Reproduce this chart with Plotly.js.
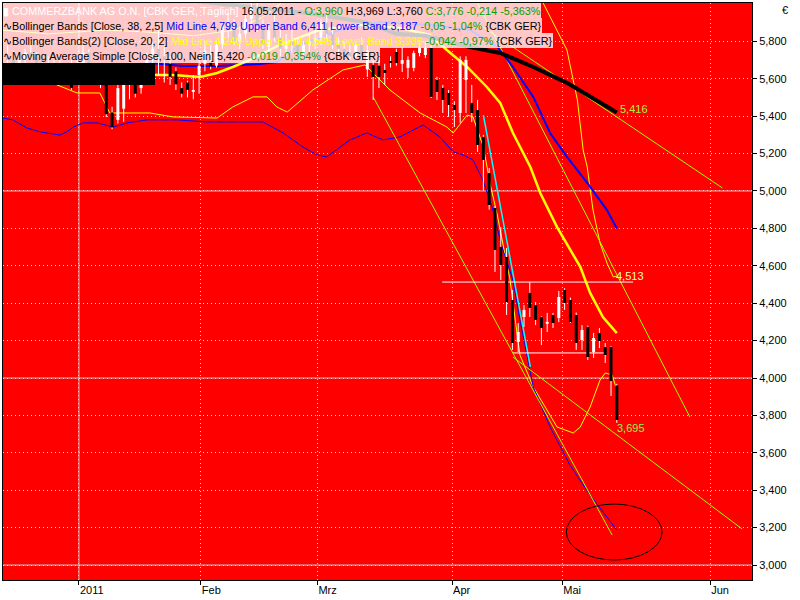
<!DOCTYPE html>
<html><head><meta charset="utf-8">
<script src="https://cdn.plot.ly/plotly-3.0.1.min.js"></script>
<style>html,body{margin:0;padding:0;background:#fff}#chart{width:800px;height:600px}</style>
</head><body><div id="chart"></div><script>
// x = trading-day index, 0 = 03.01.2011
const candleStart = -12;
const openP = [5.72,5.70,5.66,5.70,5.74,5.72,5.64,5.68,5.64,5.66,5.63,5.64,
 5.58,5.68,5.74,5.64,5.62,5.60,5.42,5.38,5.44,5.60,5.64,5.55,5.62,5.70,5.76,5.72,5.68,5.64,5.55,5.58,5.53,5.62,5.68,5.69,
 5.67,5.78,5.88,5.86,5.80,5.84,5.92,5.98,5.88,5.77,5.86,5.82,5.76,5.80,5.78,5.74,5.78,5.80,5.82,5.90,5.84,5.78,5.76,5.74,5.72,5.78,
 5.65,5.674,5.67,5.647,5.695,5.743,5.68,5.658,5.658,5.738,5.727,5.765,5.594,5.551,5.524,5.46,5.417,5.594,5.471,5.433,5.289,5.096,4.909,4.701,4.647,4.417,
 4.193,4.326,4.455,4.39,4.326,4.29,4.337,4.321,4.471,4.417,4.337,4.203,4.273,4.139,4.241,4.166,4.166,3.960];
const highP = [5.78,5.75,5.72,5.76,5.80,5.74,5.70,5.72,5.70,5.70,5.68,5.70,
 5.72,5.78,5.76,5.68,5.66,5.63,5.45,5.60,5.62,5.72,5.68,5.66,5.74,5.80,5.86,5.78,5.72,5.66,5.58,5.59,5.62,5.72,5.80,5.78,
 5.80,5.90,5.96,5.92,5.88,5.95,6.02,6.02,5.92,5.90,5.94,5.86,5.84,5.86,5.82,5.80,5.84,5.86,5.92,5.94,5.88,5.82,5.80,5.78,5.80,5.82,
 5.78,5.70,5.70,5.68,5.72,5.76,5.77,5.72,5.75,5.79,5.80,5.79,5.61,5.567,5.54,5.48,5.72,5.72,5.567,5.487,5.30,5.123,4.92,4.807,4.695,4.471,
 4.294,4.39,4.513,4.406,4.33,4.348,4.348,4.465,4.48,4.43,4.35,4.283,4.28,4.241,4.267,4.187,4.17,3.969];
const lowP = [5.66,5.64,5.62,5.66,5.70,5.62,5.60,5.62,5.60,5.61,5.59,5.54,
 5.57,5.64,5.62,5.59,5.55,5.395,5.33,5.36,5.37,5.49,5.50,5.52,5.57,5.60,5.62,5.58,5.567,5.54,5.50,5.50,5.49,5.52,5.64,5.65,
 5.66,5.76,5.82,5.78,5.76,5.80,5.88,5.85,5.76,5.74,5.80,5.72,5.72,5.74,5.70,5.70,5.74,5.76,5.78,5.80,5.76,5.72,5.71,5.70,5.70,5.70,
 5.61,5.487,5.55,5.567,5.66,5.67,5.636,5.604,5.64,5.72,5.71,5.497,5.487,5.417,5.396,5.342,5.364,5.417,5.369,5.209,5.005,4.90,4.567,4.524,4.337,4.150,
 4.139,4.273,4.326,4.283,4.176,4.246,4.267,4.299,4.364,4.294,4.150,4.150,4.096,4.107,4.160,4.080,3.904,3.760];
const closeP = [5.70,5.66,5.70,5.74,5.72,5.64,5.68,5.64,5.66,5.63,5.65,5.55,
 5.68,5.74,5.64,5.62,5.58,5.41,5.34,5.55,5.58,5.68,5.52,5.62,5.70,5.76,5.72,5.70,5.61,5.57,5.52,5.54,5.54,5.67,5.75,5.665,
 5.78,5.88,5.86,5.80,5.84,5.92,5.98,5.88,5.78,5.86,5.82,5.76,5.80,5.78,5.74,5.78,5.80,5.82,5.90,5.84,5.78,5.76,5.74,5.72,5.78,5.72,
 5.75,5.61,5.61,5.631,5.684,5.684,5.70,5.701,5.738,5.765,5.765,5.503,5.529,5.487,5.46,5.433,5.701,5.701,5.417,5.246,5.166,4.925,4.684,4.604,4.406,4.187,
 4.246,4.364,4.374,4.31,4.267,4.30,4.294,4.433,4.401,4.299,4.187,4.257,4.112,4.214,4.198,4.123,3.984,3.776];

// Bollinger Bands (38, 2.5)
const bb38MidX = [-12.8,0,12.5,16.0,18.3,24.1,31.5,34.4,38.4,45.3,52.2,60.8,67.7,72.4,75.1,78.6,81.5,84.4,87.9,91.3,93];
const bb38MidY = [5.636,5.647,5.684,5.674,5.668,5.668,5.679,5.690,5.781,5.861,5.904,5.888,5.861,5.770,5.663,5.503,5.310,5.182,5.043,4.898,4.799];
const bb38LowX = [-12.8,-11.1,-8.7,-6.4,-3.0,-1.8,-0.7,1.0,3.4,6.2,8.6,12.0,17.2,22.4,32.0,35.5,38.9,41.3,43.0,47.0,49.9,52.7,55.6,59.6,62.5,64.8,66.5,68.2,69.9,71.5,73.2,75.1,76.3,78.6,81.5,84.9,88.4,91.0,93];
const bb38LowY = [5.390,5.380,5.337,5.316,5.299,5.316,5.342,5.364,5.364,5.342,5.364,5.380,5.380,5.369,5.369,5.310,5.235,5.193,5.182,5.273,5.310,5.273,5.289,5.353,5.289,5.209,5.193,5.166,5.059,4.914,4.701,4.524,4.310,3.952,3.738,3.535,3.374,3.267,3.187];
// Bollinger Bands(2) (20, 2)
const bb20MidX = [-12.8,0,13.8,16.5,21.2,24.1,26.8,29.8,34.9,41.8,48.7,55.6,60.8,63.7,67.2,70.6,72.9,75.1,78.1,79.8,82.7,86.7,88.4,90.6,93];
const bb20MidY = [5.66,5.65,5.620,5.620,5.610,5.631,5.663,5.701,5.781,5.861,5.888,5.872,5.834,5.754,5.663,5.556,5.471,5.310,5.128,4.989,4.807,4.594,4.455,4.326,4.240];
const bb20UpX = [-12.8,-5,5,12,20,27,32,37,45,52,60,66,72,76,80.3,84.4,86.2,87.2,87.9,88.9,90.1,91.3,92.4,93];
const bb20UpY = [5.86,5.84,5.86,5.85,5.83,5.86,5.93,6.05,6.12,6.10,6.08,6.12,6.25,6.25,6.005,5.754,5.487,5.219,5.128,4.898,4.722,4.615,4.540,4.545];
const bb20LowX = [-12.8,-6.4,-3.5,-0.05,3.9,5.6,12.5,16.5,24.1,26.8,30.3,32.7,34.4,36.2,40.6,45.8,49.6,53.9,59.1,63.7,64.8,67.2,68.2,70.0,71.2,72.4,73.4,74.6,75.5,76.3,78.6,81.0,82.7,85.5,86.7,88.4,90.1,91.0,92.2,93];
const bb20LowY = [5.674,5.620,5.567,5.524,5.524,5.417,5.417,5.396,5.390,5.449,5.503,5.503,5.449,5.422,5.540,5.647,5.674,5.540,5.417,5.342,5.310,5.406,5.396,5.235,5.032,4.872,4.711,4.524,4.310,4.123,3.952,3.829,3.738,3.706,3.738,3.845,3.989,4.027,4.016,3.936];
// Moving Average Simple (100)
const ma100X = [-12.8,10,25,40,50,55,60,64,67.7,72.9,78.6,84.4,90.1,93];
const ma100Y = [6.10,6.05,6.0,5.95,5.90,5.84,5.83,5.80,5.77,5.738,5.663,5.578,5.471,5.420];

// drawn trendlines [x0, y0, x1, y1]
const greenLines = [
  [51.0, 5.503, 92.2, 3.160],
  [75.1, 4.112, 114.6, 3.193],
  [69.0, 6.005, 105.6, 3.791],
  [69.4, 5.888, 111.2, 5.016]
];
const cyanLine = [70.0, 5.406, 78.1, 4.059];
const levelY = [4.513, 4.134];
const levelX0 = [62.9, 75.1];
const levelX1 = [95.8, 91.0];

const tickVals = [0.29, 21.3, 41.4, 64.6, 83.6, 109.1];
const tickText = ['2011', 'Feb', 'Mrz', 'Apr', 'Mai', 'Jun'];

const wx = [], wy = [], ux = [], uy = [], dx = [], dy = [];
for (let k = 0; k < openP.length; k++) {
  const i = candleStart + k;
  wx.push(i, i, null); wy.push(lowP[k], highP[k], null);
  if (closeP[k] >= openP[k]) { ux.push(i, i, null); uy.push(openP[k], closeP[k], null); }
  else { dx.push(i, i, null); dy.push(openP[k], closeP[k], null); }
}

const traces = [];
function line(x, y, color, width) {
  traces.push({type:'scatter', mode:'lines', x:x, y:y, line:{color:color, width:width}, hoverinfo:'skip'});
}
line(bb20UpX, bb20UpY, '#ffff00', 1);
line(bb20LowX, bb20LowY, '#ffff00', 1);
line(bb38LowX, bb38LowY, '#0000ff', 1);
greenLines.forEach(g => line([g[0], g[2]], [g[1], g[3]], '#99ff00', 1));
line([cyanLine[0], cyanLine[2]], [cyanLine[1], cyanLine[3]], '#00ffff', 1.5);
levelY.forEach((v, k) => line([levelX0[k], levelX1[k]], [v, v], '#ffffff', 1));
line(bb38MidX, bb38MidY, '#0000ff', 2);
line(bb20MidX, bb20MidY, '#ffff00', 2.5);
line(ma100X, ma100Y, '#000000', 4);
traces.push({type:'scatter', mode:'lines', x:wx, y:wy, line:{color:'#ffffff', width:1}, connectgaps:false, hoverinfo:'skip'});
traces.push({type:'scatter', mode:'lines', x:ux, y:uy, line:{color:'#ffffff', width:3}, connectgaps:false, hoverinfo:'skip'});
traces.push({type:'scatter', mode:'lines', x:dx, y:dy, line:{color:'#000000', width:3}, connectgaps:false, hoverinfo:'skip'});

const F = 'Liberation Sans, Arial, sans-serif';
const rowH = 15, plotH = 577;
const rows = [
  '<span style="color:#ffffff">\u25AE COMMERZBANK AG O.N. [CBK GER, Täglich]</span> 16.05.2011 - <span style="color:#00a000">O:3,960</span> H:3,969 L:3,760 <span style="color:#00a000">C:3,776 -0,214 -5,363%</span>',
  '\u223FBollinger Bands [Close, 38, 2,5] <span style="color:#0000ff">Mid Line 4,799 Upper Band 6,411 Lower Band 3,187</span> <span style="color:#00a000">-0,05 -1,04%</span> {CBK GER}',
  '\u223FBollinger Bands(2) [Close, 20, 2] <span style="color:#ffff00">Mid Line 4,240 Upper Band 4,545 Lower Band 3,936</span> <span style="color:#00a000">-0,042 -0,97%</span> {CBK GER}',
  '\u223FMoving Average Simple [Close, 100, Nein] 5,420 <span style="color:#00a000">-0,019 -0,354%</span> {CBK GER}'
];
const annotations = rows.map((t, k) => ({
  xref:'paper', yref:'paper', x:0, y:1 - (rowH*k)/plotH, xanchor:'left', yanchor:'top',
  text:t, showarrow:false, align:'left', bgcolor:'rgba(255,255,255,0.78)', borderpad:0, borderwidth:0,
  height:rowH, valign:'middle', font:{family:F, size:10.8, color:'#000'}
}));
annotations.push(
  {xref:'x', yref:'y', x:93.2, y:5.44, xanchor:'left', yanchor:'middle', text:'5,416', showarrow:false, font:{family:F, size:11, color:'#a8f040'}},
  {xref:'x', yref:'y', x:92.5, y:4.545, xanchor:'left', yanchor:'middle', text:'4,513', showarrow:false, font:{family:F, size:11, color:'#ffffb0'}},
  {xref:'x', yref:'y', x:92.6, y:3.733, xanchor:'left', yanchor:'middle', text:'3,695', showarrow:false, font:{family:F, size:11, color:'#80ff40'}},
  {xref:'paper', yref:'paper', x:1.044, y:1 - 7/plotH, xanchor:'center', yanchor:'middle', text:'€', showarrow:false, font:{family:F, size:11, color:'#000'}}
);

const shapes = [
  {type:'line', xref:'paper', yref:'y', x0:0, x1:1, y0:5, y1:5, line:{color:'#c8c8c8', width:1}, layer:'below'},
  {type:'line', xref:'paper', yref:'y', x0:0, x1:1, y0:4, y1:4, line:{color:'#c8c8c8', width:1}, layer:'below'},
  {type:'line', xref:'paper', yref:'y', x0:0, x1:1, y0:3, y1:3, line:{color:'#c8c8c8', width:1}, layer:'below'},
  {type:'line', xref:'x', yref:'paper', x0:tickVals[0], x1:tickVals[0], y0:0, y1:1, line:{color:'#c8c8c8', width:1}, layer:'below'},
  {type:'rect', xref:'paper', yref:'paper', x0:0, x1:152/749, y0:1-60/plotH, y1:1-82/plotH, fillcolor:'#000', line:{width:0}, layer:'above'},
  {type:'circle', xref:'x', yref:'y', x0:84.3, x1:100.8, y0:3.027, y1:3.326, line:{color:'#000', width:1}, layer:'above'}
];

const layout = {
  width:800, height:600, margin:{l:3, r:48, t:3, b:20},
  paper_bgcolor:'#ffffff', plot_bgcolor:'#ff0000', showlegend:false, separators:',.',
  xaxis:{range:[-12.8, 116.3], tickvals:tickVals, ticktext:tickText, ticks:'outside', ticklen:4, tickcolor:'#000',
    ticklabelposition:'outside right', showgrid:true, gridcolor:'#d8d8d8', griddash:'1px,3px', zeroline:false,
    showline:true, linecolor:'#000', linewidth:1, mirror:true, tickfont:{family:F, size:11, color:'#000'}},
  yaxis:{range:[2.92, 6.005], side:'right', tickvals:[3.0,3.2,3.4,3.6,3.8,4.0,4.2,4.4,4.6,4.8,5.0,5.2,5.4,5.6,5.8], tickformat:'.3f',
    ticks:'outside', ticklen:4, tickcolor:'#000', showgrid:true, gridcolor:'#d8d8d8', griddash:'1px,3px', zeroline:false,
    showline:true, linecolor:'#000', linewidth:1, mirror:true, tickfont:{family:F, size:11, color:'#000'}},
  annotations:annotations, shapes:shapes
};
Plotly.newPlot('chart', traces, layout, {displayModeBar:false, staticPlot:true});
</script></body></html>
